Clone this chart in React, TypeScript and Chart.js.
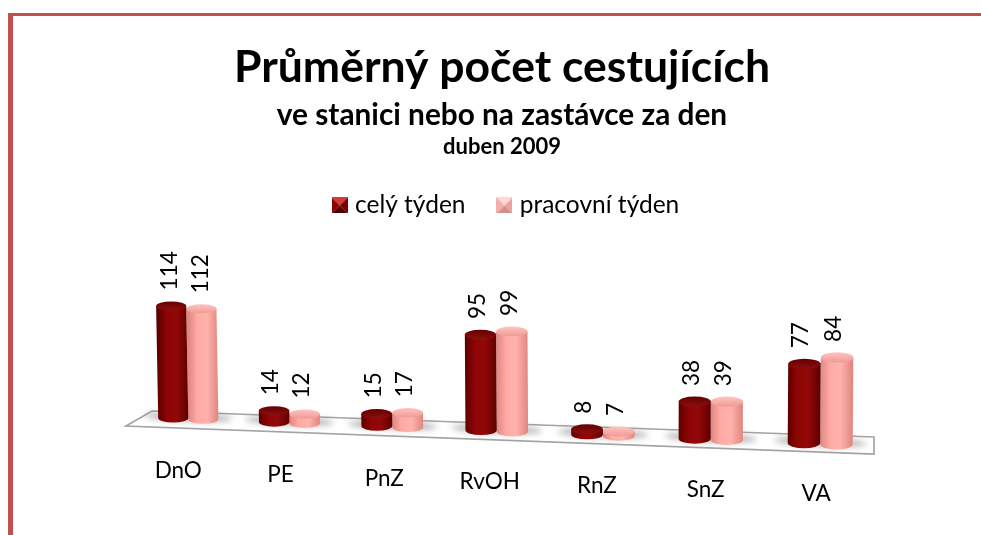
import React, { useEffect, useRef } from "react";
import { Chart, registerables } from "chart.js";

Chart.register(...registerables);

const categories = ["DnO", "PE", "PnZ", "RvOH", "RnZ", "SnZ", "VA"];
const celyTyden = [114, 14, 15, 95, 8, 38, 77];
const pracovniTyden = [112, 12, 17, 99, 7, 39, 84];
const seriesNames = ["celý týden", "pracovní týden"];
const titleText = "Průměrný počet cestujících";
const subtitleText = "ve stanici nebo na zastávce za den";
const periodText = "duben 2009";

const FONT = "Lato, Carlito, Calibri, sans-serif";
const palette = [
  { edge: "#5e0000", mid: "#8f0404", hi: "#920808", capA: "#640000", capB: "#8c0f0f" },
  { edge: "#e0867f", mid: "#ffaaa5", hi: "#ffb2ad", capA: "#ffc4c0", capB: "#f09a95" },
];

function marker(i: number) {
  const s = 16;
  const c = document.createElement("canvas");
  c.width = s;
  c.height = s;
  const g = c.getContext("2d")!;
  const tri = (pts: number[][], col: string) => {
    g.fillStyle = col;
    g.beginPath();
    pts.forEach((p, k) => (k ? g.lineTo(p[0], p[1]) : g.moveTo(p[0], p[1])));
    g.closePath();
    g.fill();
  };
  const cols = i === 0
    ? ["#d83a3a", "#8a0404", "#7a0000", "#500000"]
    : ["#ffd8d4", "#f2b0aa", "#eaa49e", "#d58f8a"];
  const m = s / 2;
  tri([[0, 0], [s, 0], [m, m]], cols[0]);
  tri([[0, 0], [0, s], [m, m]], cols[1]);
  tri([[s, 0], [s, s], [m, m]], cols[2]);
  tri([[0, s], [s, s], [m, m]], cols[3]);
  return c;
}

// perspective of the tilted floor
const LEFT = 172;
const SPAN = 650;
const tOf = (x: number) => (x - LEFT) / SPAN;

const cylinderPlugin = {
  id: "cylinders",
  afterLayout(chart: any) {
    chart.legend.left += 6;
    chart.legend.right += 6;
  },
  afterDatasetsUpdate(chart: any) {
    const xs = chart.scales.x;
    const x0 = xs.getPixelForValue(0);
    const x1 = xs.getPixelForValue(categories.length - 1);
    const yScale = chart.scales.y;
    chart.data.datasets.forEach((_: any, di: number) => {
      const meta = chart.getDatasetMeta(di);
      meta.data.forEach((el: any, idx: number) => {
        const center = xs.getPixelForValue(idx);
        const u = (center - x0) / (x1 - x0 || 1);
        const side = el.x - center;
        const gx = center - 30 * u * (1 - u) + 1.5 + 1.5 * (1 - u);
        const widen = 1 + 0.08 * u;
        const nx = gx + side * widen;
        const t = tOf(nx);
        const base = yScale.bottom + 0.0395 * (nx - LEFT);
        const h = (yScale.bottom - el.y) * (1 + 0.06 * t);
        el.x = nx;
        el.base = base;
        el.y = base - h;
        el.width = el.width * widen;
      });
    });
  },
  beforeDatasetsDraw(chart: any) {
    const { ctx, chartArea: a } = chart;
    const b = a.bottom;
    ctx.save();
    ctx.beginPath();
    ctx.moveTo(a.left - 6.5, b + 8);
    ctx.lineTo(a.left + 19.5, b - 7);
    ctx.lineTo(a.right + 2.5, b + 19);
    ctx.lineTo(a.right + 2.5, b + 36);
    ctx.closePath();
    ctx.fillStyle = "#ffffff";
    ctx.fill();
    ctx.strokeStyle = "#a4a4a4";
    ctx.lineWidth = 1.7;
    ctx.stroke();
    ctx.restore();
    // soft floor shadows
    const m0 = chart.getDatasetMeta(0).data;
    const m1 = chart.getDatasetMeta(1).data;
    m0.forEach((el: any, i: number) => {
      const e1 = m1[i];
      const l = el.x - el.width / 2 - 14;
      const r = e1.x + e1.width / 2 + 14;
      ctx.save();
      (ctx as any).filter = "blur(3px)";
      ctx.fillStyle = "rgba(120,120,120,0.6)";
      ctx.beginPath();
      ctx.ellipse((l + r) / 2, el.base - 1, (r - l) / 2, 4, 0.04, 0, Math.PI * 2);
      ctx.fill();
      ctx.restore();
    });
  },
  beforeDatasetDraw(chart: any, args: any) {
    const { ctx } = chart;
    const di = args.index;
    const pal = palette[di];
    const meta = chart.getDatasetMeta(di);
    meta.data.forEach((el: any) => {
      const w = el.width;
      const rx = w / 2;
      const ry = 4.5 + 0.7 * tOf(el.x);
      const h = el.base - el.y;
      const lean = (el.x - 650) * 3.9e-5 * h;
      const xb = el.x;
      const xt = el.x + lean;
      const grad = ctx.createLinearGradient(xb - rx, 0, xb + rx, 0);
      grad.addColorStop(0, pal.edge);
      grad.addColorStop(0.3, pal.mid);
      grad.addColorStop(0.62, pal.hi);
      grad.addColorStop(1, pal.edge);
      ctx.save();
      ctx.beginPath();
      ctx.moveTo(xt - rx, el.y);
      ctx.lineTo(xb - rx, el.base);
      ctx.ellipse(xb, el.base, rx, ry, 0, Math.PI, 0, true);
      ctx.lineTo(xt + rx, el.y);
      ctx.closePath();
      ctx.fillStyle = grad;
      ctx.fill();
      const cap = ctx.createLinearGradient(0, el.y - ry, 0, el.y + ry);
      cap.addColorStop(0, pal.capA);
      cap.addColorStop(1, pal.capB);
      ctx.beginPath();
      ctx.ellipse(xt, el.y, rx, ry, 0, 0, Math.PI * 2);
      ctx.fillStyle = cap;
      ctx.fill();
      ctx.restore();
    });
    return false;
  },
  afterDatasetsDraw(chart: any) {
    const { ctx } = chart;
    ctx.save();
    ctx.fillStyle = "#000";
    ctx.textAlign = "center";
    ctx.textBaseline = "middle";
    ctx.font = `bold 22px ${FONT}`;
    ctx.fillText(periodText, 502, 147);
    // values, rotated
    ctx.font = `22.5px ${FONT}`;
    chart.data.datasets.forEach((ds: any, di: number) => {
      chart.getDatasetMeta(di).data.forEach((el: any, i: number) => {
        const top = el.y - 9;
        ctx.save();
        ctx.translate(el.x - 3, top - 6.5);
        ctx.rotate(-Math.PI / 2);
        ctx.textAlign = "left";
        ctx.fillText(String(ds.data[i]), 0, 0);
        ctx.restore();
      });
    });
    // category labels sit on the tilted floor
    ctx.font = `22.5px ${FONT}`;
    const m1 = chart.getDatasetMeta(1).data;
    const labels = chart.scales.x.getLabels();
    labels.forEach((lab: string, i: number) => {
      const gx = m1[i].x - m1[i].width / 2;
      const u = i / (labels.length - 1);
      const yb = chart.scales.y.bottom + 0.0395 * (gx - LEFT);
      ctx.fillText(lab, gx - 10 + 6 * u, yb + 52.4 - 2.4 * u);
    });
    ctx.restore();
  },
};

export default function App() {
  const ref = useRef<HTMLCanvasElement>(null);
  useEffect(() => {
    document.body.style.margin = "0";
    document.body.style.background = "#ffffff";
    const markers = [marker(0), marker(1)];
    const chart = new Chart(ref.current!, {
      type: "bar",
      data: {
        labels: categories,
        datasets: [
          { label: seriesNames[0], data: celyTyden, backgroundColor: "#8f0404" },
          { label: seriesNames[1], data: pracovniTyden, backgroundColor: "#ffaaa5" },
        ],
      },
      plugins: [cylinderPlugin],
      options: {
        responsive: false,
        animation: false,
        layout: { padding: { left: 132.5, right: 109.5, top: 0, bottom: 535 - 418 } },
        datasets: { bar: { categoryPercentage: 0.57, barPercentage: 1 } },
        scales: {
          x: { display: false, grid: { display: false } },
          y: { display: false, min: 3, max: 191.4, grid: { display: false } },
        },
        plugins: {
          tooltip: { enabled: false },
          title: {
            display: true,
            text: titleText,
            color: "#000",
            font: { family: FONT, size: 44.5, weight: "bold", lineHeight: 1.2 },
            padding: { top: 41, bottom: 0 },
          },
          subtitle: {
            display: true,
            text: subtitleText,
            color: "#000",
            font: { family: FONT, size: 29.8, weight: "bold", lineHeight: 1.2 },
            padding: { top: 3, bottom: 24 },
          },
          legend: {
            display: true,
            position: "top",
            labels: {
              color: "#000",
              font: { family: FONT, size: 24.5 },
              usePointStyle: true,
              boxWidth: 6,
              boxHeight: 16,
              padding: 36,
              generateLabels: () =>
                seriesNames.map((text, i) => ({
                  text,
                  datasetIndex: i,
                  pointStyle: markers[i],
                  fontColor: "#000",
                  hidden: false,
                  lineWidth: 0,
                })),
            },
          },
        },
      },
    } as any);
    return () => chart.destroy();
  }, []);
  return (
    <div style={{ position: "relative", width: 981, height: 535, overflow: "hidden", background: "#fff" }}>
      <div style={{ position: "absolute", left: 8, top: 13, right: 0, height: 3.4, background: "#c0504d" }} />
      <div style={{ position: "absolute", left: 8, top: 13, bottom: 0, width: 5, background: "#c0504d" }} />
      <canvas ref={ref} width={981} height={535} style={{ position: "absolute", left: 0, top: 0 }} />
    </div>
  );
}
